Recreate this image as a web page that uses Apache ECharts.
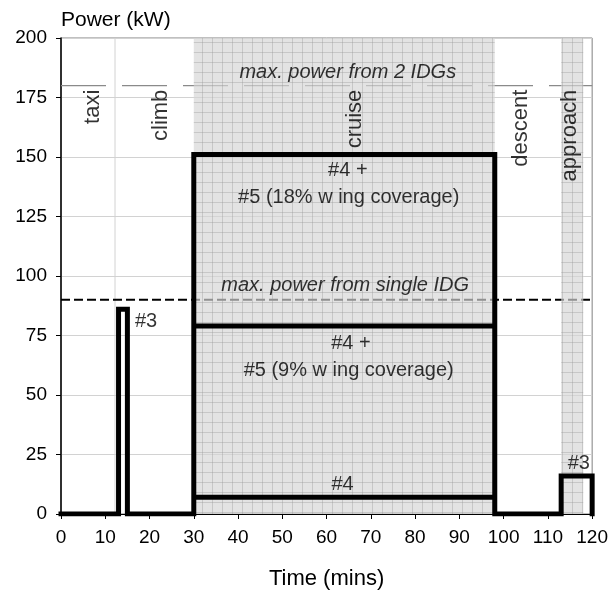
<!DOCTYPE html>
<html><head><meta charset="utf-8">
<script src="https://cdn.jsdelivr.net/npm/echarts@6/dist/echarts.min.js"></script>
<style>html,body{margin:0;padding:0;background:#fff}#c{width:611px;height:597px}</style>
</head><body><div id="c"></div>
<script>
// ---- data ----
const stepTime = [0, 13, 13, 15, 15, 30, 30, 98, 98, 113, 113, 120, 120];
const stepPower = [0, 0, 86, 86, 0, 0, 151, 151, 0, 0, 16, 16, 0];
const cruiseSpan = [30, 98];
const approachSpan = [113, 118];
const level9pct = 79;   // #4 + #5 (9% wing coverage)
const level4 = 7;       // #4
const singleIdgPower = 90;
const twoIdgPower = 180;
const taxiClimbBoundary = 12.2;
const phaseNames = ['taxi', 'climb', 'cruise', 'descent', 'approach'];
const xTickLabels = [0, 10, 20, 30, 40, 50, 60, 70, 80, 90, 100, 110, 120];
const yTickLabels = [0, 25, 50, 75, 100, 125, 150, 175, 200];

// ---- pattern for shaded phases ----
const pc = document.createElement('canvas');
pc.width = 10; pc.height = 10;
const g = pc.getContext('2d');
g.fillStyle = 'rgba(213,213,213,0.675)';
g.fillRect(0, 0, 10, 10);
g.fillStyle = 'rgba(150,150,150,0.35)';
g.fillRect(2, 0, 1, 10);
g.fillRect(0, 2, 10, 1);

const FONT = 'Liberation Sans, Arial, sans-serif';
const chart = echarts.init(document.getElementById('c'), null, {renderer: 'canvas'});

function seg(x0, x1, y) { return [[x0, y], [x1, y]]; }
const stepData = stepTime.map((t, i) => [t, stepPower[i]]);

const phaseX = [7.3, 22.5, 66.4, 104, 114.9];
const phaseTop = 178.3;

function txt(x, y, text, extra) {
  return {value: [x, y], label: Object.assign({formatter: text}, extra || {})};
}

const labels = [
  txt(64.8, 185.5, 'max. power from 2 IDGs', {fontStyle: 'italic'}),
  txt(64.2, 96, 'max. power from single IDG', {fontStyle: 'italic'}),
  txt(64.8, 144.5, '#4 +'),
  txt(65, 132.8, '#5 (18% w ing coverage)'),
  txt(65.5, 71.6, '#4 +'),
  txt(65, 60.5, '#5 (9% w ing coverage)'),
  txt(63.6, 12.6, '#4'),
  txt(16.7, 80.9, '#3', {align: 'left'}),
  txt(117, 21.2, '#3')
].concat(phaseNames.map((n, i) => txt(phaseX[i], phaseTop, n, {rotate: 90, align: 'right', fontSize: 22})));

const option = {
  animation: false,
  backgroundColor: '#fff',
  textStyle: {fontFamily: FONT},
  grid: {left: 61, right: 18, top: 38, bottom: 83, show: true, borderColor: '#808080', borderWidth: 1, backgroundColor: 'transparent'},
  xAxis: {
    type: 'value', min: 0, max: 120, interval: 10,
    name: 'Time (mins)', nameLocation: 'middle', nameGap: 54,
    nameTextStyle: {fontSize: 22, color: '#000', fontFamily: FONT},
    axisLine: {show: true, onZero: false, lineStyle: {color: '#000', width: 1}},
    axisTick: {show: true, length: 5, lineStyle: {color: '#000'}},
    axisLabel: {fontSize: 19, color: '#000', margin: 14, fontFamily: FONT,
      formatter: v => xTickLabels.includes(v) ? String(v) : ''},
    splitLine: {show: false}
  },
  yAxis: {
    type: 'value', min: 0, max: 200, interval: 25,
    name: 'Power (kW)', nameLocation: 'end', nameGap: 7,
    nameTextStyle: {fontSize: 21, color: '#000', align: 'left', fontFamily: FONT},
    axisLine: {show: true, lineStyle: {color: '#000', width: 1.5}},
    axisTick: {show: true, length: 5, lineStyle: {color: '#000'}},
    axisLabel: {fontSize: 19, color: '#000', margin: 14, fontFamily: FONT,
      formatter: v => yTickLabels.includes(v) ? String(v) : ''},
    splitLine: {show: true, lineStyle: {color: '#d2d2d2', width: 1}}
  },
  series: [
    {type: 'line', z: 1, silent: true, symbol: 'none',
     data: [[taxiClimbBoundary, 0], [taxiClimbBoundary, 200]],
     lineStyle: {color: '#d2d2d2', width: 1}},
    {type: 'line', z: 1, silent: true, symbol: 'none',
     data: seg(0, 120, singleIdgPower),
     lineStyle: {color: '#000', width: 2, type: [9, 4]}},
    {type: 'line', z: 1, silent: true, symbol: 'none',
     data: seg(0, 120, twoIdgPower),
     lineStyle: {color: '#8a8a8a', width: 1.2, type: [45, 16]}},
    {type: 'line', z: 3, silent: true, symbol: 'none', data: [],
     markArea: {silent: true, z: 3,
       itemStyle: {color: {image: pc, repeat: 'repeat'}, borderWidth: 0},
       data: [
         [{xAxis: cruiseSpan[0]}, {xAxis: cruiseSpan[1]}],
         [{xAxis: approachSpan[0]}, {xAxis: approachSpan[1]}]
       ]}},
    {type: 'line', z: 5, silent: true, symbol: 'none', data: stepData,
     lineStyle: {color: '#000', width: 5, join: 'miter', cap: 'square'}},
    {type: 'line', z: 5, silent: true, symbol: 'none', data: seg(cruiseSpan[0], cruiseSpan[1], level9pct),
     lineStyle: {color: '#000', width: 5}},
    {type: 'line', z: 5, silent: true, symbol: 'none', data: seg(cruiseSpan[0], cruiseSpan[1], level4),
     lineStyle: {color: '#000', width: 5}},
    {type: 'scatter', z: 6, silent: true, symbol: 'circle', symbolSize: 0,
     itemStyle: {color: 'rgba(0,0,0,0)'},
     label: {show: true, position: [0, 0], align: 'center', verticalAlign: 'middle',
       fontSize: 20, color: '#000', fontFamily: FONT},
     data: labels}
  ]
};
chart.setOption(option);
</script>
</body></html>
